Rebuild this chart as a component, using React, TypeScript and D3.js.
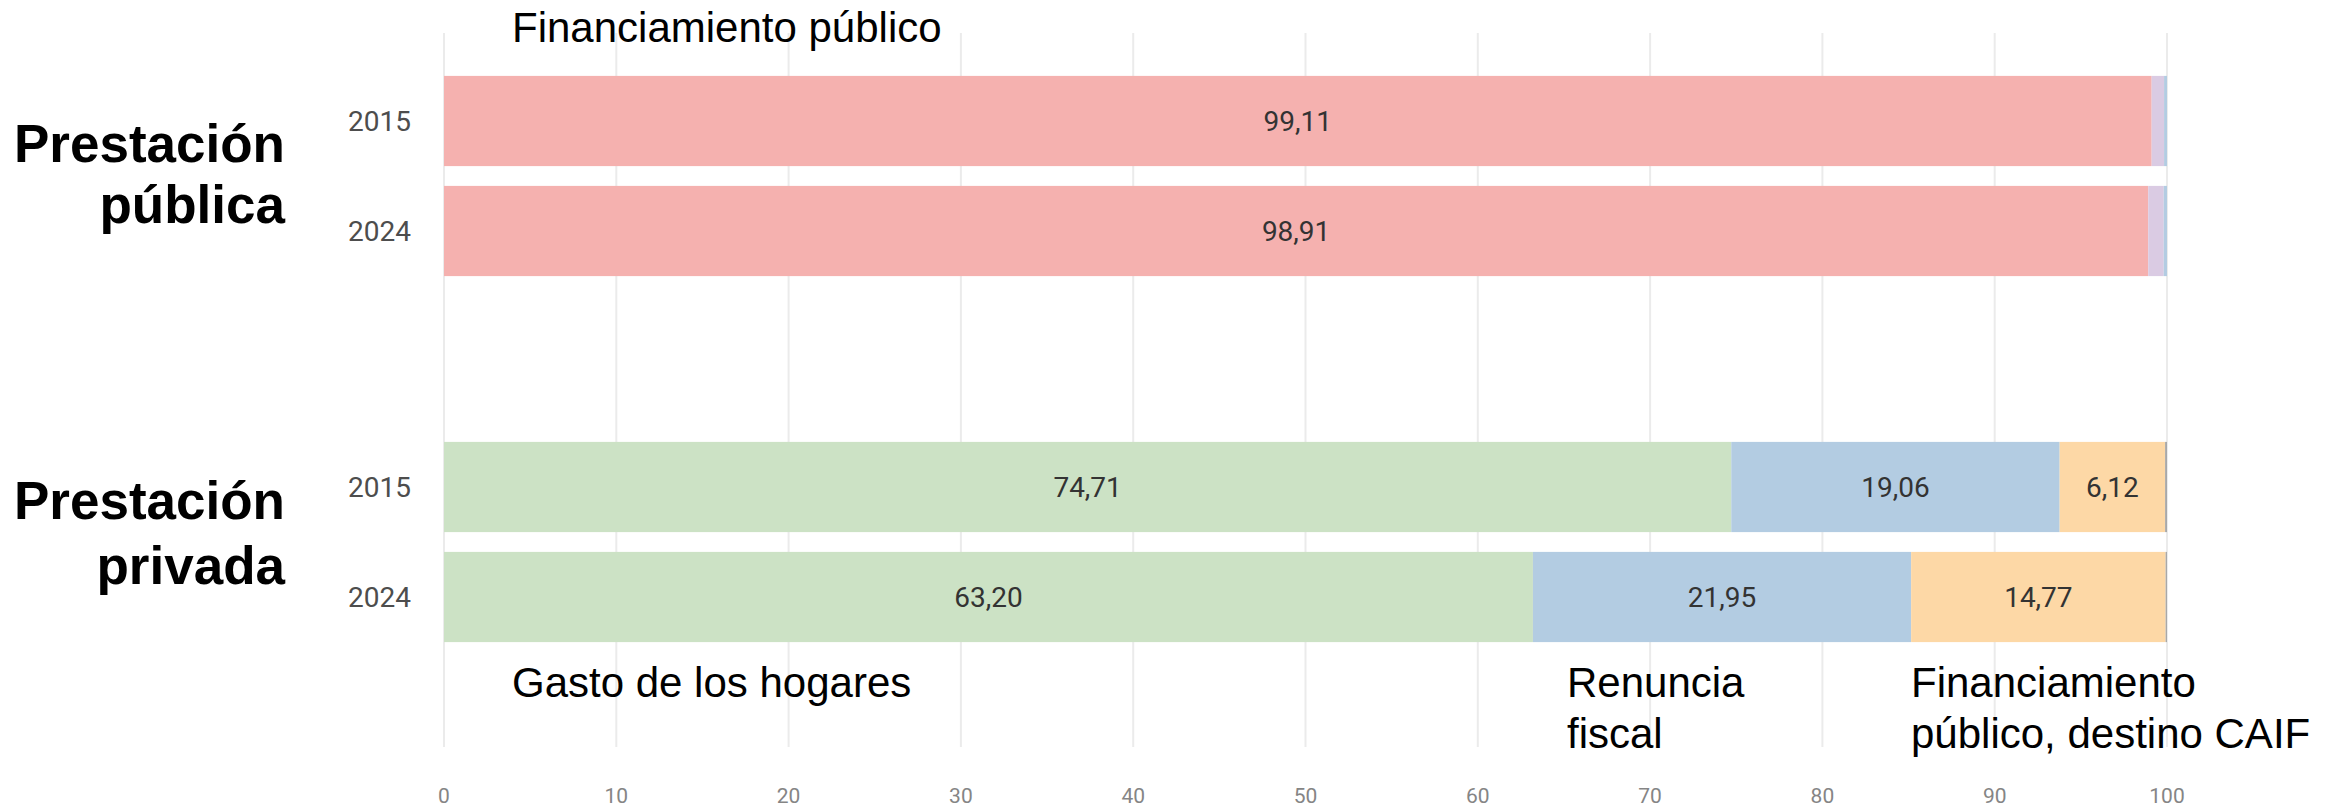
import React from "react";
import * as d3 from "d3";

const years = ["2015", "2024"];
const xTicks = [0, 10, 20, 30, 40, 50, 60, 70, 80, 90, 100];

// Prestación pública
const pubFinanciamiento = [99.11, 98.91];
const pubOtro1 = [0.72, 0.9];
const pubOtro2 = [0.17, 0.19];

// Prestación privada
const privHogares = [74.71, 63.2];
const privRenuncia = [19.06, 21.95];
const privCaif = [6.12, 14.77];
const privOtro = [0.11, 0.08];

const pubSeries = [
    { values: pubFinanciamiento, color: "#f5b1af" },
    { values: pubOtro1, color: "#dacbe3" },
    { values: pubOtro2, color: "#b3cce2" },
];
const privSeries = [
    { values: privHogares, color: "#cce2c5" },
    { values: privRenuncia, color: "#b3cce2" },
    { values: privCaif, color: "#fdd8a6" },
    { values: privOtro, color: "#a8a8a8" },
];

const fmt = (v: number) => v.toFixed(2).replace(".", ",");

const W = 2343, H = 808;
const x = d3.scaleLinear().domain([0, 100]).range([444, 2167]);

const makeY = (top: number) =>
    d3.scaleBand().domain(years).range([top, top + 220]).paddingInner(0.18).paddingOuter(0.09);

const yPub = makeY(66);
const yPriv = makeY(432);

const Group = ({ series, y }: { series: { values: number[]; color: string }[]; y: d3.ScaleBand<string> }) => {
    return (
        <g>
            {years.map((yr, i) => {
                let acc = 0;
                const by = y(yr)!;
                const bh = y.bandwidth();
                return (
                    <g key={yr}>
                        <text x={411} y={by + bh / 2} dy="0.36em" textAnchor="end"
                            fontFamily="Roboto" fontSize={28} fill="#4d4d4d">{yr}</text>
                        {series.map((s, j) => {
                            const v = s.values[i];
                            const x0 = x(acc);
                            acc += v;
                            const x1 = x(acc);
                            return (
                                <g key={j}>
                                    <rect x={x0} y={by} width={x1 - x0} height={bh} fill={s.color} />
                                    {v > 2 && (
                                        <text x={(x0 + x1) / 2} y={by + bh / 2} dy="0.36em" textAnchor="middle"
                                            fontFamily="Roboto" fontSize={28} fill="#333">{fmt(v)}</text>
                                    )}
                                </g>
                            );
                        })}
                    </g>
                );
            })}
        </g>
    );
};

const App = () => {
    const sans = "'Liberation Sans', Arial, sans-serif";
    return (
        <svg width={W} height={H} style={{ position: "absolute", left: 0, top: 0, background: "#fff" }}>
            {/* grid */}
            {xTicks.map(t => (
                <line key={t} x1={x(t)} x2={x(t)} y1={33} y2={747} stroke="#ebebeb" strokeWidth={2} />
            ))}
            {xTicks.map(t => (
                <text key={"l" + t} x={x(t)} y={803} textAnchor="middle" fontFamily="Roboto"
                    fontSize={21} fill="#858585">{t}</text>
            ))}

            <Group series={pubSeries} y={yPub} />
            <Group series={privSeries} y={yPriv} />

            {/* group labels */}
            <text fontFamily={sans} fontWeight="bold" fontSize={53} fill="#000" textAnchor="end">
                <tspan x={285} y={162}>Prestación</tspan>
                <tspan x={285} y={223}>pública</tspan>
            </text>
            <text fontFamily={sans} fontWeight="bold" fontSize={53} fill="#000" textAnchor="end">
                <tspan x={285} y={519}>Prestación</tspan>
                <tspan x={285} y={584}>privada</tspan>
            </text>

            {/* annotations */}
            <text x={512} y={42} fontFamily={sans} fontSize={42} fill="#000">Financiamiento público</text>
            <text x={512} y={697} fontFamily={sans} fontSize={42} fill="#000">Gasto de los hogares</text>
            <text fontFamily={sans} fontSize={42} fill="#000">
                <tspan x={1567} y={697}>Renuncia</tspan>
                <tspan x={1567} y={748}>fiscal</tspan>
            </text>
            <text fontFamily={sans} fontSize={42} fill="#000">
                <tspan x={1911} y={697}>Financiamiento</tspan>
                <tspan x={1911} y={748}>público, destino CAIF</tspan>
            </text>
        </svg>
    );
};

export default App;
